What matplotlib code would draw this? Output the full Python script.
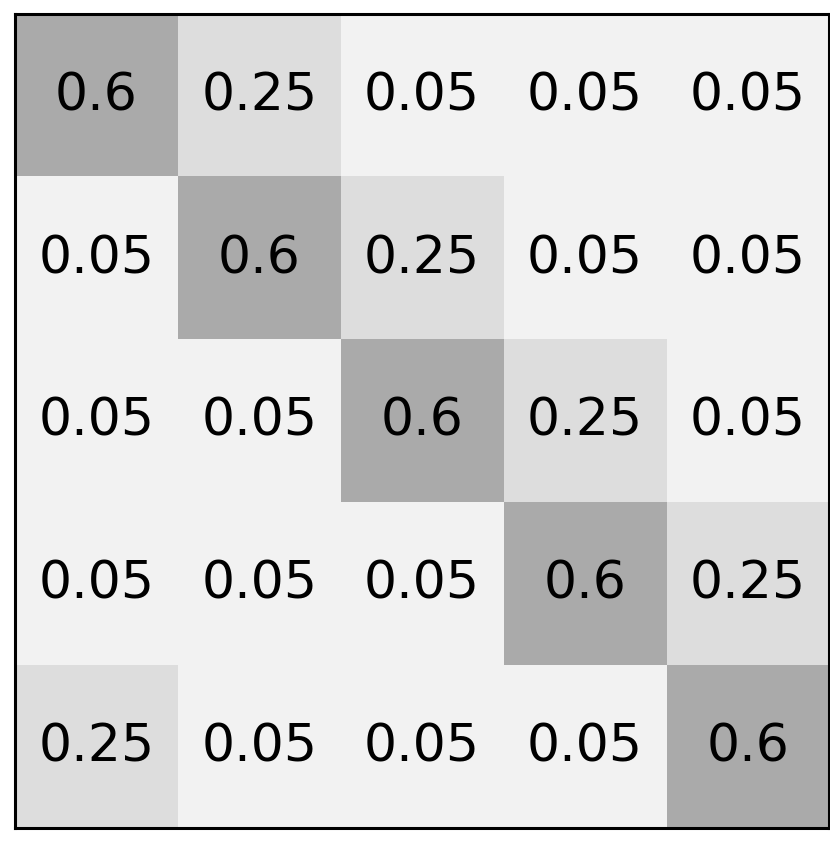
import numpy as np
import matplotlib
matplotlib.use("Agg")
from matplotlib import pyplot as plt
from matplotlib.colors import ListedColormap, BoundaryNorm

# transition matrix values
row0 = [0.6, 0.25, 0.05, 0.05, 0.05]
row1 = [0.05, 0.6, 0.25, 0.05, 0.05]
row2 = [0.05, 0.05, 0.6, 0.25, 0.05]
row3 = [0.05, 0.05, 0.05, 0.6, 0.25]
row4 = [0.25, 0.05, 0.05, 0.05, 0.6]
M = np.array([row0, row1, row2, row3, row4])

cmap = ListedColormap(["#f2f2f2", "#dddddd", "#aaaaaa"])
norm = BoundaryNorm([0, 0.1, 0.4, 1.0], cmap.N)

fig = plt.figure(figsize=(8.3, 8.45), dpi=100)
ax = fig.add_axes([15/830, 16/845, 814/830, 814/845])
ax.imshow(M, cmap=cmap, norm=norm, aspect="auto")
for i in range(M.shape[0]):
    for j in range(M.shape[1]):
        ax.text(j, i, "%g" % M[i, j], ha="center", va="center", fontsize=37.5, color="black")
ax.set_xticks([]), ax.set_yticks([])
for s in ax.spines.values():
    s.set_linewidth(2.2)
fig.savefig("out.png", dpi=100)
